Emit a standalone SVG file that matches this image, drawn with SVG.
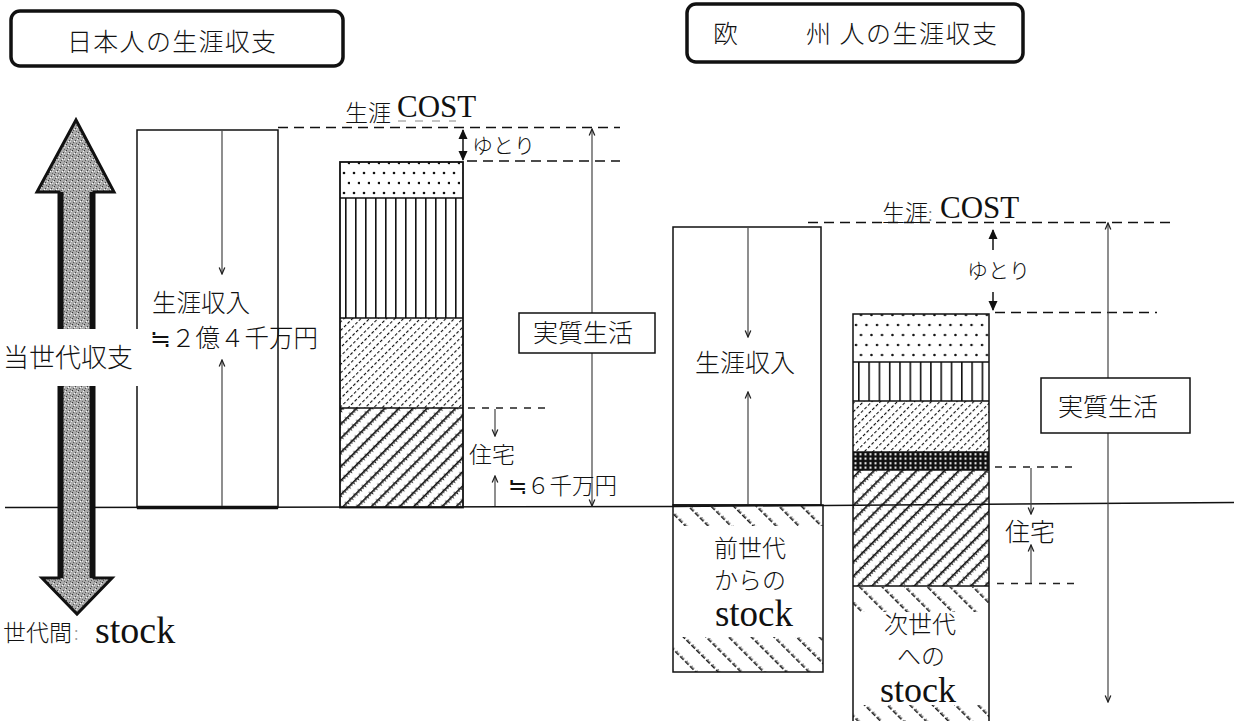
<svg xmlns="http://www.w3.org/2000/svg" width="1234" height="721" viewBox="0 0 1234 721">
<style>
.jp{font-family:"Noto Sans CJK JP","Noto Sans CJK SC",sans-serif;font-weight:300;fill:#111}
.sf{font-family:"Liberation Serif","Noto Sans CJK JP",serif;fill:#111}
.ln{stroke:#111;stroke-width:1.5;fill:none}
.dash{stroke:#111;stroke-width:1.5;stroke-dasharray:10 6;fill:none}
.dash2{stroke:#222;stroke-width:1.3;stroke-dasharray:7 7;fill:none}
.thin{stroke:#444;stroke-width:1.2;fill:none}
.box{fill:#fff;stroke:#111;stroke-width:1.5}
.title{fill:#fff;stroke:#111;stroke-width:3.5}
</style>
<defs>
<pattern id="grain" width="6" height="6" patternUnits="userSpaceOnUse">
<rect width="6" height="6" fill="#a9a9a9"/>
<rect x="0" y="0" width="1" height="1" fill="#333"/>
<rect x="3" y="2" width="1" height="1" fill="#444"/>
<rect x="1" y="4" width="1" height="1" fill="#555"/>
<rect x="4" y="5" width="1" height="1" fill="#666"/>
<rect x="5" y="1" width="1" height="1" fill="#eee"/>
<rect x="2" y="3" width="1" height="1" fill="#fff"/>
<rect x="4" y="3" width="1" height="1" fill="#ddd"/>
</pattern>
<pattern id="dotsJ" x="340" y="168" width="10" height="20" patternUnits="userSpaceOnUse">
<circle cx="4" cy="5" r="1.3" fill="#111"/><circle cx="9" cy="15" r="1.3" fill="#111"/>
</pattern>
<pattern id="dotsE" x="852" y="320" width="10.5" height="20" patternUnits="userSpaceOnUse">
<circle cx="4" cy="5" r="1.3" fill="#111"/><circle cx="9" cy="15" r="1.3" fill="#111"/>
</pattern>
<pattern id="vlJ" x="345" y="0" width="10" height="10" patternUnits="userSpaceOnUse">
<rect x="0" y="0" width="1.6" height="10" fill="#111"/>
</pattern>
<pattern id="vlE" x="858" y="0" width="10.3" height="10" patternUnits="userSpaceOnUse">
<rect x="0" y="0" width="1.6" height="10" fill="#111"/>
</pattern>
<pattern id="fine" width="6" height="5" patternUnits="userSpaceOnUse" patternTransform="rotate(45)">
<rect x="0" y="0" width="1.1" height="3" fill="#111"/>
</pattern>
<pattern id="dense" width="10" height="6" patternUnits="userSpaceOnUse" patternTransform="rotate(45)">
<rect x="0" y="0" width="1.7" height="6" fill="#111"/>
<rect x="1.7" y="1" width="1.6" height="1" fill="#222"/>
<rect x="1.7" y="4" width="1" height="1" fill="#333"/>
<rect x="8.8" y="2.5" width="1.2" height="1" fill="#333"/>
</pattern>
<pattern id="stock" width="16" height="7" patternUnits="userSpaceOnUse" patternTransform="rotate(-45)">
<rect x="0" y="0" width="1.6" height="5" fill="#222"/>
<rect x="1.6" y="1" width="1.2" height="1" fill="#444"/>
<rect x="1.6" y="3.5" width="1" height="1" fill="#555"/>
</pattern>
<pattern id="mesh" x="853" y="452" width="5" height="4.5" patternUnits="userSpaceOnUse">
<rect width="5" height="4.5" fill="#111"/>
<rect x="1.5" y="1.2" width="2" height="2" fill="#fff"/>
</pattern>
<marker id="oh" viewBox="0 0 10 10" refX="9" refY="5" markerWidth="8" markerHeight="8" markerUnits="userSpaceOnUse" orient="auto-start-reverse">
<path d="M1,1.5 L9,5 L1,8.5" fill="none" stroke="#222" stroke-width="1.6"/>
</marker>
<marker id="sh" viewBox="0 0 10 10" refX="9" refY="5" markerWidth="10" markerHeight="10" markerUnits="userSpaceOnUse" orient="auto-start-reverse">
<path d="M0,0.5 L10,5 L0,9.5 Z" fill="#111"/>
</marker>
</defs>

<g id="title-japan">
<rect class="title" x="11" y="11" width="332" height="55" rx="9"/>
<text class="jp" x="67" y="51" font-size="25" letter-spacing="1.3">日本人の生涯収支</text>
</g>
<g id="title-europe">
<rect class="title" x="687" y="4" width="336" height="58" rx="9"/>
<text class="jp" y="43" font-size="25" letter-spacing="1.5"><tspan x="713">欧　　</tspan><tspan x="806">州 人の生涯収支</tspan></text>
</g>

<g id="baseline">
<polyline class="ln" points="5,507.5 675,506.5 1234,502.5"/>
</g>

<g id="japan-income">
<rect x="137" y="130" width="141" height="377.5" fill="none" stroke="#111" stroke-width="1.5"/>
<line x1="137" y1="507.5" x2="278" y2="507.5" stroke="#111" stroke-width="3.5"/>
<line class="thin" x1="222" y1="131" x2="222" y2="274" marker-end="url(#oh)"/>
<line class="thin" x1="222" y1="506" x2="222" y2="360" marker-end="url(#oh)"/>
<text class="jp" x="152" y="312" font-size="24.5">生涯収入</text>
<text class="jp" x="150" y="347" font-size="24.5">≒２億４千万円</text>
</g>

<g id="japan-arrow">
<path d="M76,120 L114,192 L94,192 L94,578 L112,578 L77,614 L42,578 L59,578 L59,192 L37,192 Z" fill="url(#grain)" stroke="#111" stroke-width="3" stroke-linejoin="miter"/>
<line x1="61" y1="192" x2="61" y2="578" stroke="#111" stroke-width="5"/>
<line x1="92" y1="192" x2="92" y2="578" stroke="#111" stroke-width="5"/>
<rect x="0" y="329" width="140" height="57" fill="#fff"/>
<text class="jp" x="3" y="367" font-size="26">当世代収支</text>
<text class="jp" x="3" y="641" font-size="23">世代間</text>
<text class="jp" x="74" y="640" font-size="18" style="fill:#999">:</text>
<text class="sf" x="95" y="643" font-size="38">stock</text>
</g>

<g id="japan-cost">
<line class="dash" x1="278" y1="127.5" x2="620" y2="127.5"/>
<line class="dash" x1="467" y1="161" x2="620" y2="161"/>
<line x1="398" y1="121" x2="456" y2="121" stroke="#888" stroke-width="1" stroke-dasharray="8 9"/>
<text class="jp" x="345" y="121" font-size="23">生涯</text>
<text class="sf" x="397" y="117" font-size="31">COST</text>
<line class="ln" x1="463" y1="130" x2="463" y2="160" marker-start="url(#sh)" marker-end="url(#sh)"/>
<text class="jp" x="472" y="153" font-size="21">ゆとり</text>
</g>

<g id="japan-bar">
<rect x="340" y="162" width="123" height="36" fill="url(#dotsJ)"/>
<rect x="340" y="198" width="123" height="120" fill="url(#vlJ)"/>
<rect x="340" y="318" width="123" height="90" fill="url(#fine)"/>
<rect x="340" y="408" width="123" height="99.5" fill="url(#dense)"/>
<rect x="340" y="162" width="123" height="345.5" fill="none" stroke="#111" stroke-width="1.8"/>
<line class="ln" x1="340" y1="198" x2="463" y2="198"/>
<line class="ln" x1="340" y1="318" x2="463" y2="318"/>
<line class="ln" x1="340" y1="408" x2="463" y2="408"/>
</g>

<g id="japan-life">
<line class="thin" x1="592" y1="129" x2="592" y2="506" marker-start="url(#oh)" marker-end="url(#oh)"/>
<rect class="box" x="519" y="313" width="136" height="40"/>
<text class="jp" x="533" y="342" font-size="25">実質生活</text>
</g>

<g id="japan-housing">
<line class="dash2" x1="468" y1="408" x2="550" y2="408"/>
<line class="thin" x1="495" y1="409" x2="495" y2="436" marker-end="url(#oh)"/>
<line class="thin" x1="495" y1="506" x2="495" y2="476" marker-end="url(#oh)"/>
<text class="jp" x="469" y="463" font-size="23">住宅</text>
<text class="jp" x="508" y="494" font-size="22.5">≒６千万円</text>
</g>

<g id="europe-income">
<rect x="673" y="227" width="148" height="278" fill="none" stroke="#111" stroke-width="1.5"/>
<line class="thin" x1="748" y1="228" x2="748" y2="337" marker-end="url(#oh)"/>
<line class="thin" x1="748" y1="504" x2="748" y2="392" marker-end="url(#oh)"/>
<text class="jp" x="695" y="372" font-size="25">生涯収入</text>
</g>

<g id="europe-prev-stock">
<rect x="673" y="506" width="150" height="20" fill="url(#stock)"/>
<rect x="673" y="637" width="150" height="35" fill="url(#stock)"/>
<rect x="673" y="505" width="150" height="167" fill="none" stroke="#111" stroke-width="1.5"/>
<text class="jp" x="750" y="557" font-size="24" text-anchor="middle">前世代</text>
<text class="jp" x="750" y="589" font-size="24" text-anchor="middle">からの</text>
<text class="sf" x="754" y="626" font-size="37" text-anchor="middle">stock</text>
</g>

<g id="europe-cost">
<line class="dash" x1="808" y1="222.5" x2="1172" y2="222.5"/>
<line class="dash" x1="995" y1="312.5" x2="1157" y2="312.5"/>
<text class="jp" x="882" y="221" font-size="23">生涯<tspan font-size="18" style="fill:#777">:</tspan></text>
<text class="sf" x="940" y="218" font-size="31">COST</text>
<line class="ln" x1="993" y1="250" x2="993" y2="230" marker-end="url(#sh)"/>
<line class="ln" x1="993" y1="292" x2="993" y2="310" marker-end="url(#sh)"/>
<text class="jp" x="967" y="278" font-size="21">ゆとり</text>
</g>

<g id="europe-bar">
<rect x="853" y="314" width="136" height="48" fill="url(#dotsE)"/>
<rect x="853" y="362" width="136" height="39" fill="url(#vlE)"/>
<rect x="853" y="401" width="136" height="51" fill="url(#fine)"/>
<rect x="853" y="452" width="136" height="18" fill="url(#mesh)"/>
<rect x="853" y="470" width="136" height="116" fill="url(#dense)"/>
<rect x="853" y="587" width="136" height="25" fill="url(#stock)"/>
<rect x="853" y="705" width="136" height="16" fill="url(#stock)"/>
<polyline class="ln" points="853,722 853,314 989,314 989,722" stroke-width="1.8"/>
<line class="ln" x1="853" y1="362" x2="989" y2="362"/>
<line class="ln" x1="853" y1="401" x2="989" y2="401"/>
<line class="ln" x1="853" y1="452" x2="989" y2="452"/>
<line class="ln" x1="853" y1="470" x2="989" y2="470"/>
<line class="ln" x1="853" y1="586" x2="989" y2="586"/>
</g>

<g id="europe-next-stock">
<text class="jp" x="920" y="633" font-size="24" text-anchor="middle">次世代</text>
<text class="jp" x="921" y="665" font-size="24" text-anchor="middle">への</text>
<text class="sf" x="918" y="702" font-size="36" text-anchor="middle">stock</text>
</g>

<g id="europe-life">
<line class="thin" x1="1108" y1="223" x2="1108" y2="702" marker-start="url(#oh)" marker-end="url(#oh)"/>
<rect class="box" x="1041" y="378" width="149" height="55"/>
<text class="jp" x="1058" y="416" font-size="25">実質生活</text>
</g>

<g id="europe-housing">
<line class="dash2" x1="995" y1="467" x2="1076" y2="467"/>
<line class="dash2" x1="997" y1="583.5" x2="1076" y2="583.5"/>
<line class="thin" x1="1031" y1="468" x2="1031" y2="514" marker-end="url(#oh)"/>
<line class="thin" x1="1031" y1="583" x2="1031" y2="545" marker-end="url(#oh)"/>
<text class="jp" x="1005" y="541" font-size="25">住宅</text>
</g>
</svg>
